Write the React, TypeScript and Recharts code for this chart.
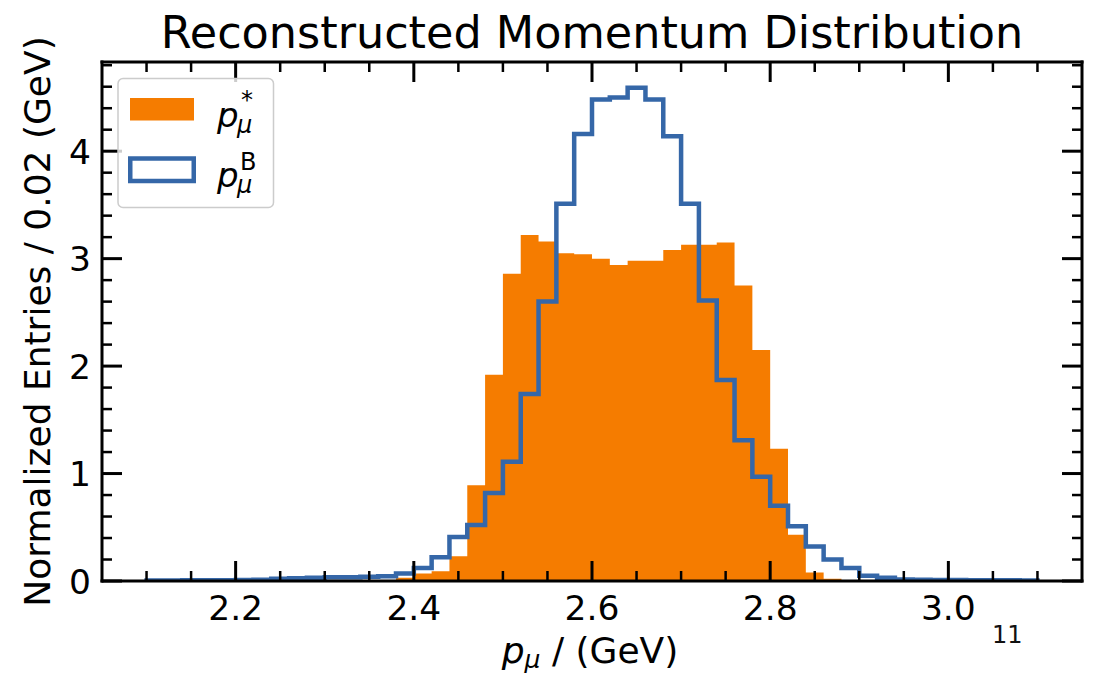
import { ComposedChart, Area, Line, XAxis, YAxis } from "recharts"

// histogram bins: 2.10 .. 3.10 GeV, 0.02 wide
const binStart = 2.1
const binWidth = 0.02

// p*_mu (filled, orange)
const pStar = [
  0, 0, 0, 0, 0, 0, 0, 0, 0, 0,
  0, 0, 0, 0.01, 0.03, 0.07, 0.09, 0.23, 0.89, 1.92,
  2.86, 3.22, 3.16, 3.05, 3.04, 3.0, 2.94, 2.98, 2.98, 3.08,
  3.13, 3.13, 3.15, 2.75, 2.15, 1.23, 0.43, 0.08, 0.02, 0,
  0, 0, 0, 0, 0, 0, 0, 0, 0, 0,
]

// p^B_mu (step outline, blue)
const pB = [
  0.005, 0.005, 0.006, 0.008, 0.008, 0.01, 0.012, 0.02, 0.025, 0.03,
  0.035, 0.035, 0.04, 0.045, 0.07, 0.12, 0.22, 0.41, 0.52, 0.82,
  1.11, 1.74, 2.6, 3.51, 4.16, 4.48, 4.5, 4.59, 4.48, 4.14,
  3.51, 2.61, 1.87, 1.31, 0.97, 0.7, 0.51, 0.32, 0.2, 0.12,
  0.05, 0.03, 0.015, 0.012, 0.01, 0.01, 0.008, 0.008, 0.006, 0.005,
]

const xMajor = [2.2, 2.4, 2.6, 2.8, 3.0]
const xMinor = [2.1, 2.15, 2.25, 2.3, 2.35, 2.45, 2.5, 2.55, 2.65, 2.7, 2.75, 2.85, 2.9, 2.95, 3.05, 3.1]
const yMajor = [0, 1, 2, 3, 4]
const yMinor = [0.2, 0.4, 0.6, 0.8, 1.2, 1.4, 1.6, 1.8, 2.2, 2.4, 2.6, 2.8, 3.2, 3.4, 3.6, 3.8, 4.2, 4.4, 4.6, 4.8]

const xDomain = [2.05, 3.15]
const yDomain = [0, 4.83]

const ORANGE = "#f57c00"
const BLUE = "#3567a8"
const FONT = "DejaVu Sans"

// step table on bin edges, closed down to zero at both ends
const last = pStar.length - 1
const data: { x: number; star: number; b: number }[] = [{ x: binStart, star: 0, b: 0 }]
pStar.forEach((v, i) => {
  data.push({ x: +(binStart + i * binWidth).toFixed(2), star: v, b: pB[i] })
})
const binEnd = +(binStart + pStar.length * binWidth).toFixed(2)
data.push({ x: binEnd, star: pStar[last], b: pB[last] })
data.push({ x: binEnd, star: 0, b: 0 })

const xTicks = [...xMajor, ...xMinor].sort((a, b) => a - b)
const yTicks = [...yMajor, ...yMinor].sort((a, b) => a - b)

const has = (arr: number[], v: number) => arr.some((t) => Math.abs(t - v) < 1e-6)

// inward ticks, major + minor, labels only where asked
function makeTick(side: "bottom" | "top" | "left" | "right", major: number[], label: ((v: number) => string) | null) {
  return (props: any) => {
    const { x, y, payload } = props
    const v = payload.value
    const big = has(major, v)
    const len = big ? 20 : 10
    const sw = big ? 3 : 2.5
    let line
    if (side === "bottom") line = <line x1={x} x2={x} y1={y} y2={y - len} stroke="#000" strokeWidth={sw} />
    else if (side === "top") line = <line x1={x} x2={x} y1={y} y2={y + len} stroke="#000" strokeWidth={sw} />
    else if (side === "left") line = <line x1={x} x2={x + len} y1={y} y2={y} stroke="#000" strokeWidth={sw} />
    else line = <line x1={x} x2={x - len} y1={y} y2={y} stroke="#000" strokeWidth={sw} />
    let text = null
    if (big && label) {
      if (side === "bottom")
        text = (
          <text x={x} y={y + 39} textAnchor="middle" fontSize={34.5} fontFamily={FONT} fill="#000">
            {label(v)}
          </text>
        )
      else if (side === "left")
        text = (
          <text x={x - 11} y={y + 12.5} textAnchor="end" fontSize={34.5} fontFamily={FONT} fill="#000">
            {label(v)}
          </text>
        )
    }
    return (
      <g>
        {line}
        {text}
      </g>
    )
  }
}

const spine = { stroke: "#000", strokeWidth: 3, strokeLinecap: "square" as const }

export default function App() {
  return (
    <div style={{ position: "absolute", left: 0, top: 0, width: 1095, height: 675, background: "#fff" }}>
      <ComposedChart width={1095} height={675} data={data} margin={{ top: 0, right: 0, bottom: 0, left: 0 }}>
        <Area
          xAxisId="b"
          yAxisId="l"
          type="stepAfter"
          dataKey="star"
          fill={ORANGE}
          fillOpacity={1}
          stroke="none"
          isAnimationActive={false}
        />
        <Line
          xAxisId="b"
          yAxisId="l"
          type="stepAfter"
          dataKey="b"
          stroke={BLUE}
          strokeWidth={4.5}
          strokeLinejoin="miter"
          dot={false}
          activeDot={false}
          isAnimationActive={false}
        />
        <XAxis
          xAxisId="b"
          dataKey="x"
          type="number"
          orientation="bottom"
          domain={xDomain}
          allowDataOverflow
          ticks={xTicks}
          interval={0}
          height={94}
          tickSize={0}
          tickMargin={0}
          tickLine={false}
          axisLine={spine}
          tick={makeTick("bottom", xMajor, (v) => v.toFixed(1))}
        />
        <XAxis
          xAxisId="t"
          dataKey="x"
          type="number"
          orientation="top"
          domain={xDomain}
          allowDataOverflow
          ticks={xTicks}
          interval={0}
          height={62}
          tickSize={0}
          tickMargin={0}
          tickLine={false}
          axisLine={spine}
          tick={makeTick("top", xMajor, null)}
        />
        <YAxis
          yAxisId="l"
          type="number"
          orientation="left"
          domain={yDomain}
          allowDataOverflow
          ticks={yTicks}
          interval={0}
          width={102}
          tickSize={0}
          tickMargin={0}
          tickLine={false}
          axisLine={spine}
          tick={makeTick("left", yMajor, (v) => String(v))}
        />
        <YAxis
          yAxisId="r"
          type="number"
          orientation="right"
          domain={yDomain}
          allowDataOverflow
          ticks={yTicks}
          interval={0}
          width={13}
          tickSize={0}
          tickMargin={0}
          tickLine={false}
          axisLine={spine}
          tick={makeTick("right", yMajor, null)}
        />
      </ComposedChart>

      <svg
        width={1095}
        height={675}
        style={{ position: "absolute", left: 0, top: 0, pointerEvents: "none" }}
        fontFamily={FONT}
      >
        <text x={592} y={48} textAnchor="middle" fontSize={44.5} fill="#000">
          Reconstructed Momentum Distribution
        </text>
        <text
          transform="translate(50,321.5) rotate(-90)"
          textAnchor="middle"
          fontSize={36}
          fill="#000"
        >
          Normalized Entries / 0.02 (GeV)
        </text>
        <text x={590} y={663} textAnchor="middle" fontSize={36} fill="#000">
          <tspan fontStyle="italic">p</tspan>
          <tspan fontStyle="italic" fontSize={25} dy={5}>μ</tspan>
          <tspan dy={-5}> / (GeV)</tspan>
        </text>
        <text x={992} y={643} fontSize={24} fill="#111">
          11
        </text>

        {/* legend */}
        <rect x={118} y={78.5} width={155.5} height={129} rx={5} fill="#fff" fillOpacity={0.8} stroke="#cccccc" strokeWidth={1.5} />
        <rect x={130} y={98} width={64} height={22.5} fill={ORANGE} />
        <rect x={130.25} y={158.5} width={63.5} height={22.5} fill="none" stroke={BLUE} strokeWidth={4.5} />
        <text x={217} y={127} fontSize={34} fontStyle="italic" fill="#000">p</text>
        <text x={237} y={133} fontSize={24} fontStyle="italic" fill="#000">μ</text>
        <text x={241} y={108} fontSize={24} fill="#000">*</text>
        <text x={217} y={187} fontSize={34} fontStyle="italic" fill="#000">p</text>
        <text x={237} y={193} fontSize={24} fontStyle="italic" fill="#000">μ</text>
        <text x={240} y={170} fontSize={24} fill="#000">B</text>
      </svg>
    </div>
  )
}
